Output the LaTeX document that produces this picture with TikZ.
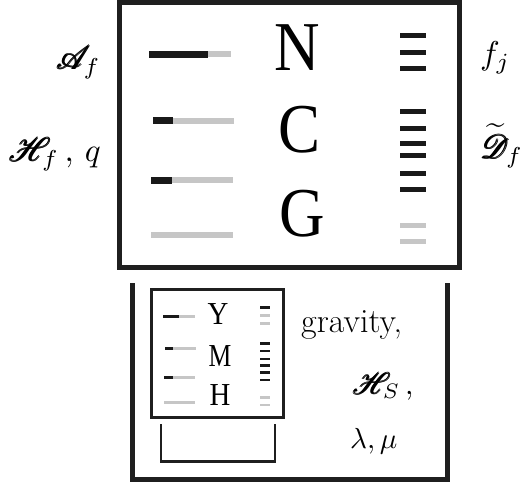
\documentclass[tikz,border=0pt]{standalone}
\usepackage{amsmath}
\usepackage{mathrsfs}
\usepackage{fontspec}
\newfontfamily\letterfont{Liberation Serif}
\usetikzlibrary{positioning}

\begin{document}
\begin{tikzpicture}[x=1pt, y=-1pt,
  frame/.style={line width=4.5pt, black!88},
  innerframe/.style={line width=2.5pt, black!88},
  darkbar/.style={line width=7pt, black!90},
  lightbar/.style={line width=6pt, gray!45},
  smalldark/.style={line width=3pt, black!90},
  smalllight/.style={line width=3pt, gray!45},
  tickdark/.style={line width=5pt, black!90},
  ticklight/.style={line width=5pt, gray!45},
  minidark/.style={line width=2.5pt, black!90},
  minilight/.style={line width=2.5pt, gray!45},
  bigletter/.style={inner sep=0pt, font=\letterfont\fontsize{70}{70}\selectfont},
  smallletter/.style={inner sep=0pt, font=\letterfont\fontsize{32}{32}\selectfont},
  label/.style={inner sep=0pt}
]
  \useasboundingbox (0,0) rectangle (522,484);

  % outer frames
  \draw[frame] (119.5,2.5) rectangle (459.5,267.5);
  \draw[frame] (132.5,283) -- (132.5,479.5) -- (447.5,479.5) -- (447.5,283);

  % big letters
  \node[bigletter] (N) at (297,48) {\scalebox{0.9}[1]{N}};
  \node[bigletter] (C) at (300,130) {\scalebox{0.9}[1]{C}};
  \node[bigletter] (G) at (302,214) {\scalebox{0.9}[1]{G}};

  % left bars
  \foreach \y/\a/\b/\c in {54.5/149/208/231, 121/153/173/234, 180/151/172/233} {
    \draw[darkbar] (\a,\y) -- (\b,\y);
    \draw[lightbar] (\b,\y) -- (\c,\y);
  }
  \draw[lightbar] (151,235) -- (233,235);

  % right ticks
  \foreach \y in {36,52.7,68.3,112,128.3,144,156,173,189}
    \draw[tickdark] (400,\y) -- (426,\y);
  \foreach \y in {225,241.7}
    \draw[ticklight] (400,\y) -- (426,\y);

  % side labels
  \node[label, anchor=east] (Af) at (101,62) {\scalebox{3.3}{$\pmb{\mathscr{A}}\mkern-4mu_f$}};
  \node[label, anchor=east] (Hf) at (101,154) {\scalebox{3.3}{$\pmb{\mathscr{H}}\mkern-5mu_f\,,\, q$}};
  \node[label, anchor=west] (fj) at (480,58) {\scalebox{3.3}{$f_j$}};
  \node[label, anchor=west] (Df) at (481,146) {\scalebox{3.3}{$\widetilde{\rule{0pt}{7.6pt}\pmb{\mathscr{D}}}\mkern-2mu_f$}};

  % small box
  \draw[innerframe] (151.5,289.5) rectangle (283.5,417.5);
  \draw[innerframe] (161,424) -- (161,461.5) -- (275,461.5) -- (275,424);

  \node[smallletter] (Y) at (218,314) {\scalebox{0.9}[1]{Y}};
  \node[smallletter] (M) at (220,356) {\scalebox{0.8}[1]{M}};
  \node[smallletter] (H) at (220,395) {\scalebox{0.9}[1]{H}};

  \foreach \y/\a/\b/\c in {316.7/163/179/195, 348/165/173/196, 377/164/173/195} {
    \draw[smalldark] (\a,\y) -- (\b,\y);
    \draw[smalllight] (\b,\y) -- (\c,\y);
  }
  \draw[smalllight] (164,402) -- (195,402);

  \foreach \y in {307.3,343.3,351,359,365.5,372.7,380}
    \draw[minidark] (260,\y) -- (270,\y);
  \foreach \y in {315.7,323.3,397.3,405}
    \draw[minilight] (260,\y) -- (270,\y);

  % lower labels
  \node[label, anchor=west, font=\fontsize{34}{34}\selectfont] (grav) at (301,325) {gravity,};
  \node[label, anchor=west] (HS) at (353,386) {\scalebox{3}{$\pmb{\mathscr{H}}\mkern-5mu_S\,$,}};
  \node[label, anchor=west] (lm) at (350,441) {\scalebox{2.9}{$\lambda, \mu$}};
\end{tikzpicture}
\end{document}
